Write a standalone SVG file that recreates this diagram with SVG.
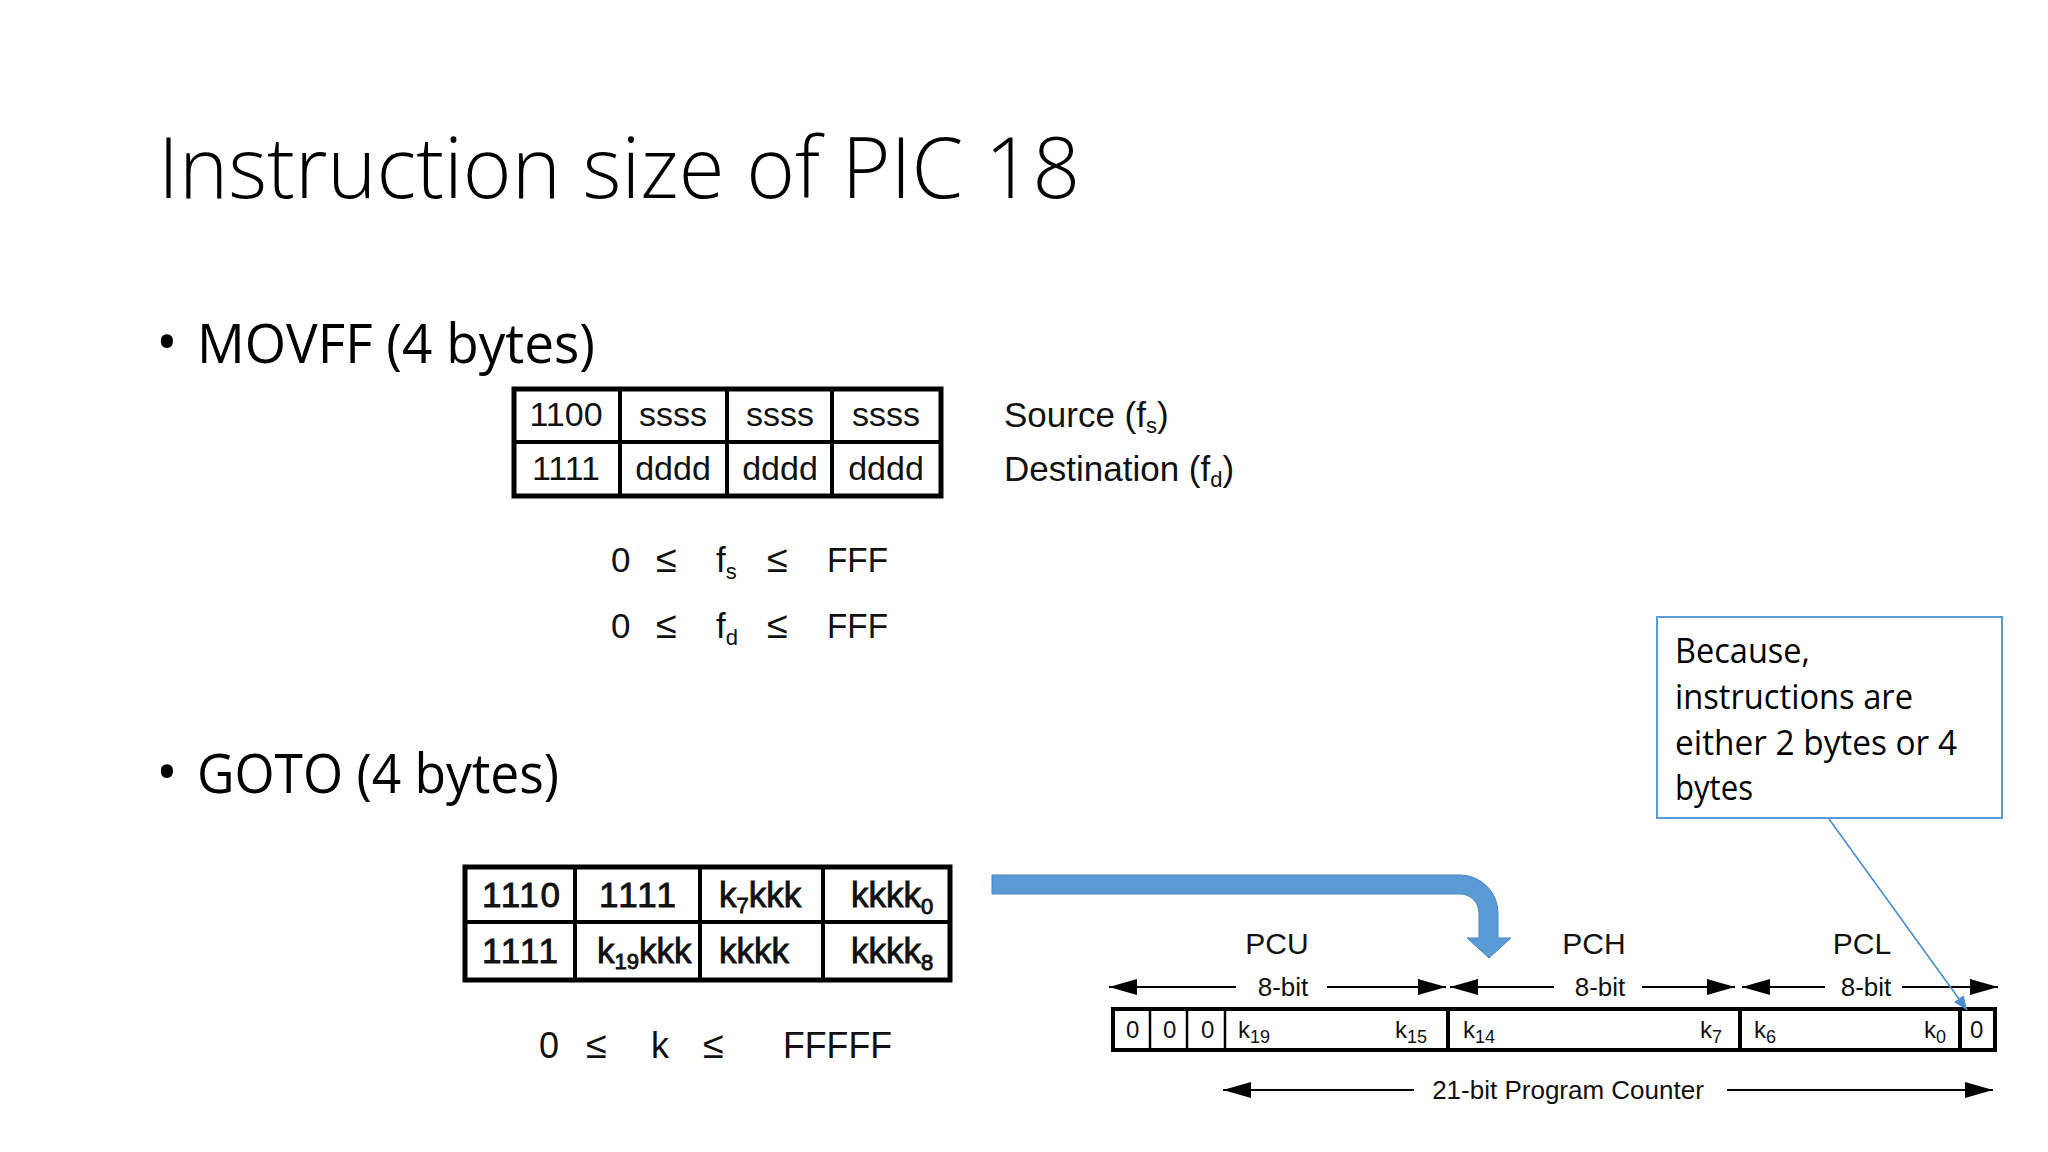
<svg xmlns="http://www.w3.org/2000/svg" width="2048" height="1152" viewBox="0 0 2048 1152">
<defs>
<style>
.slide{font-family:"Open Sans","Noto Sans","Liberation Sans",sans-serif;fill:#000}
.title{font-size:84px;font-weight:300}
.bullet{font-size:54px}
.dot{font-size:58px}
.call{font-size:34px}
.hv{font-family:"Liberation Sans",Arial,sans-serif;fill:#111}
.cell{font-size:34px}
.cellb{font-size:35px;stroke:#111;stroke-width:0.9}
.ineq{font-size:35px}
.reg{font-size:24px}
.lab{font-size:30px}
.small{font-size:26px}
.thick{fill:none;stroke:#000;stroke-width:5}
.div{stroke:#000;stroke-width:4}
.thin{stroke:#000;stroke-width:2.5}
.dim{stroke:#000;stroke-width:2.2;fill:none;marker-end:url(#ah)}
</style>
<marker id="ah" viewBox="0 0 28 16" refX="28" refY="8" markerWidth="28" markerHeight="16" markerUnits="userSpaceOnUse" orient="auto">
<path d="M0,0 L28,8 L0,16 Z" fill="#000"/>
</marker>
<marker id="bh" viewBox="0 0 14 12" refX="14" refY="6" markerWidth="14" markerHeight="12" markerUnits="userSpaceOnUse" orient="auto">
<path d="M0,0 L14,6 L0,12 Z" fill="#4a8ccc"/>
</marker>
</defs>
<rect width="2048" height="1152" fill="#fff"/>

<g id="title">
<text class="slide title" x="158" y="198" textLength="922" lengthAdjust="spacingAndGlyphs">Instruction size of PIC 18</text>
</g>

<g id="bullet-movff">
<text class="slide dot" x="156" y="363">•</text>
<text class="slide bullet" x="197" y="363" textLength="398" lengthAdjust="spacingAndGlyphs">MOVFF (4 bytes)</text>
</g>

<g id="bullet-goto">
<text class="slide dot" x="156" y="793">•</text>
<text class="slide bullet" x="197" y="793" textLength="362" lengthAdjust="spacingAndGlyphs">GOTO (4 bytes)</text>
</g>

<g id="movff-table">
<rect class="thick" x="514" y="389" width="427" height="107"/>
<line class="div" x1="514" y1="442" x2="941" y2="442"/>
<line class="div" x1="620" y1="389" x2="620" y2="496"/>
<line class="div" x1="727" y1="389" x2="727" y2="496"/>
<line class="div" x1="832" y1="389" x2="832" y2="496"/>
<g class="hv cell" text-anchor="middle">
<text x="566" y="426">1100</text>
<text x="673" y="426">ssss</text>
<text x="780" y="426">ssss</text>
<text x="886" y="426">ssss</text>
<text x="566" y="480">1111</text>
<text x="673" y="480">dddd</text>
<text x="780" y="480">dddd</text>
<text x="886" y="480">dddd</text>
</g>
</g>

<g id="movff-labels" class="hv" font-size="35">
<text x="1004" y="427">Source (f<tspan font-size="22" dy="6">s</tspan><tspan dy="-6">)</tspan></text>
<text x="1004" y="481">Destination (f<tspan font-size="22" dy="6">d</tspan><tspan dy="-6">)</tspan></text>
</g>

<g id="movff-ranges" class="hv ineq">
<text x="611" y="572">0</text>
<text x="656" y="572" font-size="38">≤</text>
<text x="716" y="572">f<tspan font-size="22" dy="7">s</tspan></text>
<text x="767" y="572" font-size="38">≤</text>
<text x="827" y="572" textLength="61" lengthAdjust="spacingAndGlyphs">FFF</text>
<text x="611" y="638">0</text>
<text x="656" y="638" font-size="38">≤</text>
<text x="716" y="638">f<tspan font-size="22" dy="7">d</tspan></text>
<text x="767" y="638" font-size="38">≤</text>
<text x="827" y="638" textLength="61" lengthAdjust="spacingAndGlyphs">FFF</text>
</g>

<g id="goto-table">
<rect class="thick" x="465" y="867" width="485" height="113"/>
<line class="div" x1="465" y1="922" x2="950" y2="922"/>
<line class="div" x1="575" y1="867" x2="575" y2="980"/>
<line class="div" x1="700" y1="867" x2="700" y2="980"/>
<line class="div" x1="823" y1="867" x2="823" y2="980"/>
<g class="hv cellb">
<text x="482" y="907" textLength="78" lengthAdjust="spacing">1110</text>
<text x="599" y="907" textLength="77" lengthAdjust="spacing">1111</text>
<text x="719" y="907">k<tspan font-size="22" dy="6">7</tspan><tspan dy="-6">kkk</tspan></text>
<text x="851" y="907">kkkk<tspan font-size="22" dy="7">0</tspan></text>
<text x="482" y="963" textLength="76" lengthAdjust="spacing">1111</text>
<text x="597" y="963">k<tspan font-size="22" dy="6">19</tspan><tspan dy="-6">kkk</tspan></text>
<text x="719" y="963">kkkk</text>
<text x="851" y="963">kkkk<tspan font-size="22" dy="7">8</tspan></text>
</g>
</g>

<g id="goto-range" class="hv" font-size="36">
<text x="539" y="1058">0</text>
<text x="586" y="1058" font-size="38">≤</text>
<text x="651" y="1058">k</text>
<text x="703" y="1058" font-size="38">≤</text>
<text x="783" y="1058" textLength="109" lengthAdjust="spacingAndGlyphs">FFFFF</text>
</g>

<g id="pc-register">
<g class="hv lab" text-anchor="middle">
<text x="1277" y="954">PCU</text>
<text x="1594" y="954">PCH</text>
<text x="1862" y="954">PCL</text>
</g>
<rect x="1113" y="1009" width="882" height="41" fill="none" stroke="#000" stroke-width="4"/>
<line class="thin" x1="1150" y1="1009" x2="1150" y2="1050"/>
<line class="thin" x1="1187" y1="1009" x2="1187" y2="1050"/>
<line class="thin" x1="1225" y1="1009" x2="1225" y2="1050"/>
<line class="div" x1="1448" y1="1009" x2="1448" y2="1050"/>
<line class="div" x1="1740" y1="1009" x2="1740" y2="1050"/>
<line class="div" x1="1960" y1="1009" x2="1960" y2="1050"/>
<g class="hv reg">
<text x="1126" y="1038">0</text>
<text x="1163" y="1038">0</text>
<text x="1201" y="1038">0</text>
<text x="1238" y="1038">k<tspan font-size="18" dy="5">19</tspan></text>
<text x="1395" y="1038">k<tspan font-size="18" dy="5">15</tspan></text>
<text x="1463" y="1038">k<tspan font-size="18" dy="5">14</tspan></text>
<text x="1700" y="1038">k<tspan font-size="18" dy="5">7</tspan></text>
<text x="1754" y="1038">k<tspan font-size="18" dy="5">6</tspan></text>
<text x="1924" y="1038">k<tspan font-size="18" dy="5">0</tspan></text>
<text x="1970" y="1038">0</text>
</g>
<g class="hv small" text-anchor="middle">
<text x="1283" y="996">8-bit</text>
<text x="1600" y="996">8-bit</text>
<text x="1866" y="996">8-bit</text>
<text x="1568" y="1099">21-bit Program Counter</text>
</g>
</g>

<g id="callout">
<rect x="1657" y="617" width="345" height="201" fill="#fff" stroke="#5b9bd5" stroke-width="2"/>
<g class="slide call">
<text x="1675" y="663" textLength="135" lengthAdjust="spacingAndGlyphs">Because,</text>
<text x="1675" y="709" textLength="238" lengthAdjust="spacingAndGlyphs">instructions are</text>
<text x="1675" y="755" textLength="282" lengthAdjust="spacingAndGlyphs">either 2 bytes or 4</text>
<text x="1675" y="800" textLength="78" lengthAdjust="spacingAndGlyphs">bytes</text>
</g>
</g>

<g id="connectors">
<path class="dim" d="M1236,987 H1109"/>
<path class="dim" d="M1327,987 H1446"/>
<path class="dim" d="M1554,987 H1450"/>
<path class="dim" d="M1642,987 H1735"/>
<path class="dim" d="M1825,987 H1742"/>
<path class="dim" d="M1902,987 H1998"/>
<path class="dim" d="M1414,1090 H1223"/>
<path class="dim" d="M1727,1090 H1993"/>
<path d="M992,875 H1460 A38,38 0 0 1 1498,913 V938 H1511 L1489,958 L1467,938 H1479 V913 A19,19 0 0 0 1460,894 H992 Z" fill="#5b9bd5" stroke="#4a86c0" stroke-width="1"/>
<line x1="1829" y1="819" x2="1967" y2="1010" stroke="#4a8ccc" stroke-width="1.6" marker-end="url(#bh)"/>
</g>
</svg>
